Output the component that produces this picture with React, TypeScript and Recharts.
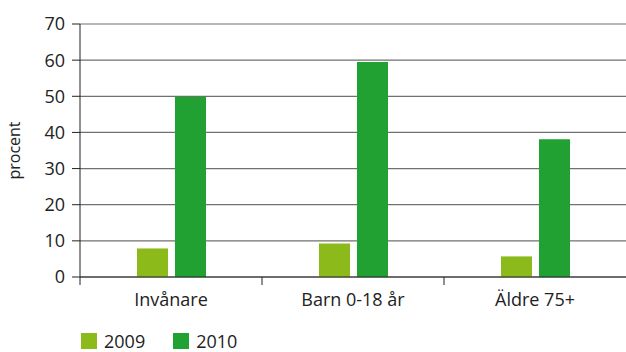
import { Bar, BarChart, CartesianGrid, Legend, XAxis, YAxis } from "recharts";

const categories = ["Invånare", "Barn 0-18 år", "Äldre 75+"];
const values2009 = [7.9, 9.3, 5.7];
const values2010 = [49.9, 59.5, 38.1];
const yTicks = [0, 10, 20, 30, 40, 50, 60, 70];

const series = [
  { key: "y2009", name: "2009", color: "#8CBA1A" },
  { key: "y2010", name: "2010", color: "#21A131" },
];

const data = categories.map((c, i) => ({
  name: c,
  y2009: values2009[i],
  y2010: values2010[i],
}));

const FONT = "'Open Sans', sans-serif";

function CategoryTick(props: any) {
  const { x, y, payload, width } = props;
  const half = (width ?? 546) / categories.length / 2;
  return (
    <g>
      <line x1={x - half} x2={x - half} y1={y} y2={y + 8} stroke="#222" strokeWidth={1} />
      <text x={x} y={y + 29} textAnchor="middle" fill="#222" fontSize={18} fontFamily={FONT}>
        {payload.value}
      </text>
    </g>
  );
}

function YLabel(props: any) {
  const { viewBox } = props;
  const cy = viewBox.y + viewBox.height / 2;
  return (
    <text
      x={14}
      y={cy}
      transform={`rotate(-90 14 ${cy})`}
      textAnchor="middle"
      dominantBaseline="central"
      fill="#222"
      fontSize={16}
      fontFamily={FONT}
    >
      procent
    </text>
  );
}

function LegendBox() {
  return (
    <div
      style={{
        height: 30,
        boxSizing: "border-box",
        paddingBottom: 3,
        display: "flex",
        alignItems: "flex-end",
        fontFamily: FONT,
        fontSize: 18,
        color: "#222",
      }}
    >
      {series.map((s) => (
        <div key={s.key} style={{ display: "flex", alignItems: "center", marginRight: 28, height: 16 }}>
          <div style={{ width: 16, height: 16, background: s.color, marginRight: 7 }} />
          <span>{s.name}</span>
        </div>
      ))}
    </div>
  );
}

export default function App() {
  return (
    <div style={{ position: "absolute", left: 0, top: 0, background: "#fff" }}>
      <BarChart
        width={626}
        height={352}
        data={data}
        margin={{ top: 24, right: 0, left: 0, bottom: 0 }}
        barSize={31}
        barGap={7}
      >
        <CartesianGrid vertical={false} stroke="#707070" strokeWidth={1.2} />
        <XAxis
          dataKey="name"
          axisLine={{ stroke: "#222" }}
          tickLine={false}
          tickSize={0}
          tickMargin={0}
          height={45}
          interval={0}
          tick={<CategoryTick />}
        />
        <YAxis
          width={80}
          domain={[0, 70]}
          ticks={yTicks}
          interval={0}
          axisLine={{ stroke: "#222" }}
          tickLine={{ stroke: "#222" }}
          tickSize={8}
          tickMargin={7}
          tick={{ fill: "#222", fontSize: 18, fontFamily: FONT }}
          label={<YLabel />}
        />
        <Legend
          verticalAlign="bottom"
          align="left"
          content={<LegendBox />}
          wrapperStyle={{ paddingLeft: 81 }}
        />
        {series.map((s) => (
          <Bar key={s.key} dataKey={s.key} name={s.name} fill={s.color} isAnimationActive={false} />
        ))}
      </BarChart>
    </div>
  );
}
